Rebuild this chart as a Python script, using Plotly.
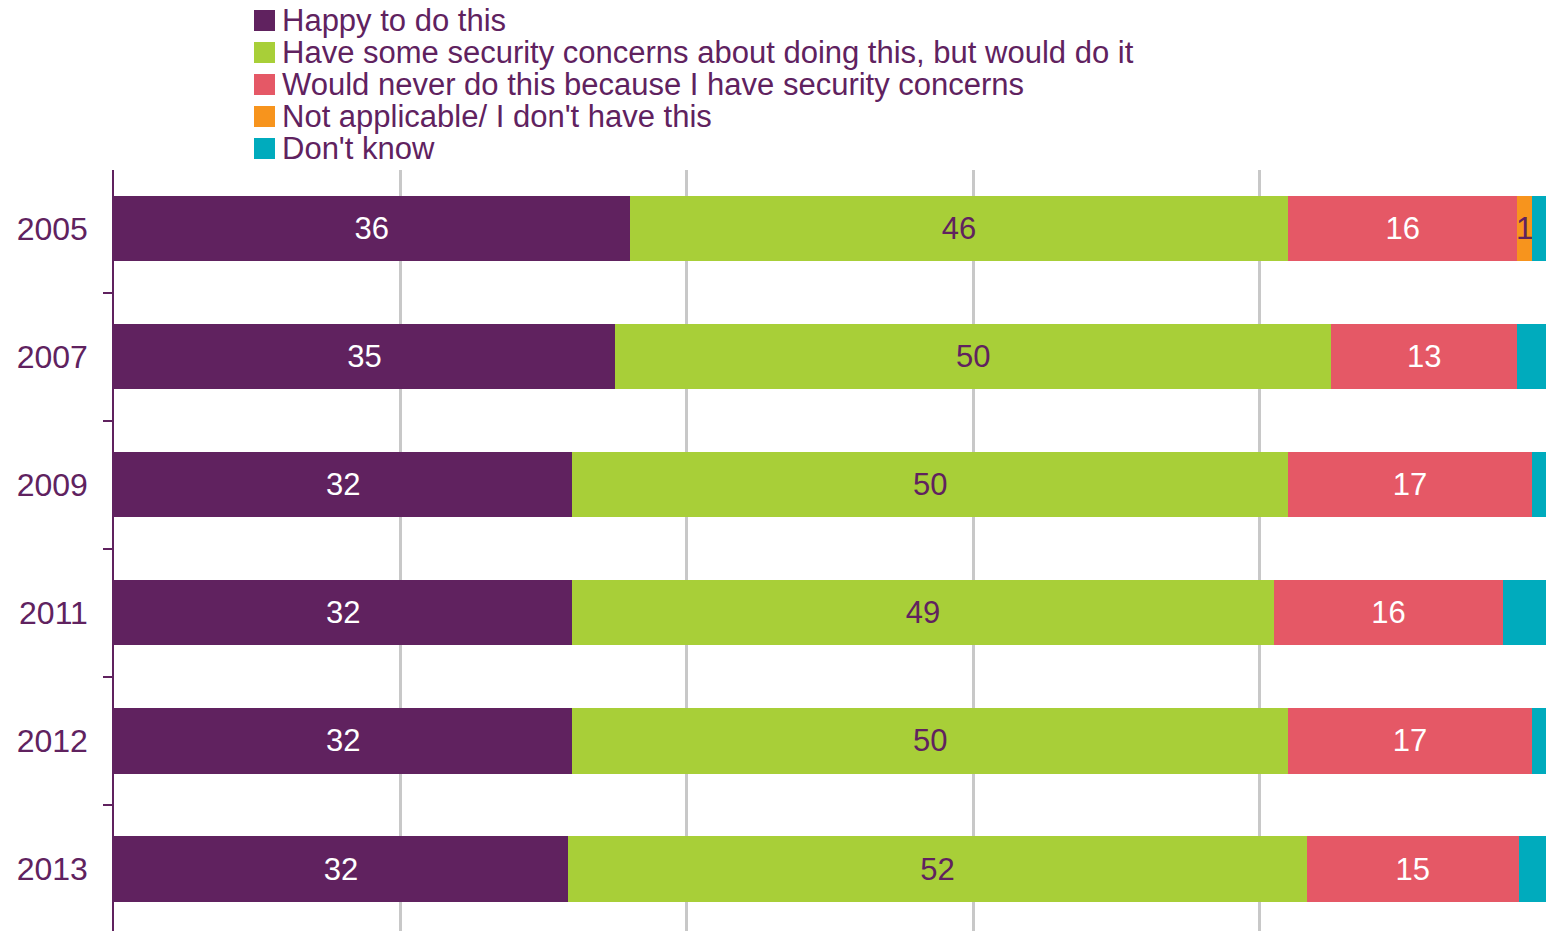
import plotly.graph_objects as go

years = ["2005", "2007", "2009", "2011", "2012", "2013"]
happy = [36, 35, 32, 32, 32, 31.7]
some_concerns = [46, 50, 50, 49, 50, 51.6]
never = [16, 13, 17, 16, 17, 14.8]
not_applicable = [1, 0, 0, 0, 0, 0]
dont_know = [1, 2, 1, 3, 1, 1.9]

series_names = [
    "Happy to do this",
    "Have some security concerns about doing this, but would do it",
    "Would never do this because I have security concerns",
    "Not applicable/ I don't have this",
    "Don't know",
]
series_values = [happy, some_concerns, never, not_applicable, dont_know]
series_colors = ["#60225f", "#a8cf38", "#e55866", "#f7941d", "#00abbd"]
label_colors = ["#ffffff", "#60225f", "#ffffff", "#60225f", None]

PURPLE = "#60225f"
FONT = "Liberation Sans, Arial, sans-serif"

W, H = 1550, 931
ML, MR, MT, MB = 114, 4, 170, 0
PW, PH = W - ML - MR, H - MT - MB

fig = go.Figure()
for name, vals, col, lc in zip(series_names, series_values, series_colors, label_colors):
    if lc is None:
        texts = ["" for v in vals]
    else:
        texts = [f"{v:.0f}" if v >= 0.5 else "" for v in vals]
    fig.add_trace(go.Bar(
        y=years, x=vals, name=name, orientation="h",
        marker=dict(color=col, line=dict(width=0)),
        text=texts, textposition="inside", insidetextanchor="middle",
        textangle=0, constraintext="none",
        textfont=dict(family=FONT, size=31, color=lc if lc else "#ffffff"),
        hoverinfo="x+y+name",
    ))

# Manual legend (tight line spacing like the reference)
def px_to_paper_x(px):
    return (px - ML) / PW

def px_to_paper_y(py):
    return (H - MB - py) / PH

shapes = []
annotations = []
for i, (name, col) in enumerate(zip(series_names, series_colors)):
    cy = 20.5 + 32 * i
    shapes.append(dict(
        type="rect", xref="paper", yref="paper",
        xsizemode="pixel", ysizemode="pixel",
        xanchor=px_to_paper_x(264.5), yanchor=px_to_paper_y(cy),
        x0=-10.5, x1=10.5, y0=-10.5, y1=10.5,
        fillcolor=col, line=dict(width=0),
    ))
    annotations.append(dict(
        xref="paper", yref="paper", x=px_to_paper_x(281), y=px_to_paper_y(cy),
        xanchor="left", yanchor="middle", showarrow=False, text=name,
        font=dict(family=FONT, size=31, color=PURPLE), borderpad=0,
    ))

fig.update_layout(
    width=W, height=H,
    margin=dict(l=ML, r=MR, t=MT, b=MB, pad=0),
    barmode="stack", bargap=0.49,
    showlegend=False,
    plot_bgcolor="white", paper_bgcolor="white",
    font=dict(family=FONT, color=PURPLE),
    shapes=shapes, annotations=annotations,
)
fig.update_xaxes(
    range=[0, 100], dtick=20, showgrid=True, gridcolor="#c8c8c8", gridwidth=3,
    zeroline=False, showline=False, showticklabels=False, ticks="",
)
fig.update_yaxes(
    type="category", categoryorder="array", categoryarray=years,
    range=[5.484, -0.457],
    showline=True, linecolor=PURPLE, linewidth=1.5,
    ticks="outside", tickson="boundaries", ticklen=9, tickcolor=PURPLE, tickwidth=1.5,
    ticklabelstandoff=18,
    tickfont=dict(family=FONT, size=32, color=PURPLE),
    showgrid=False, zeroline=False,
)

fig.write_html("out.html")
